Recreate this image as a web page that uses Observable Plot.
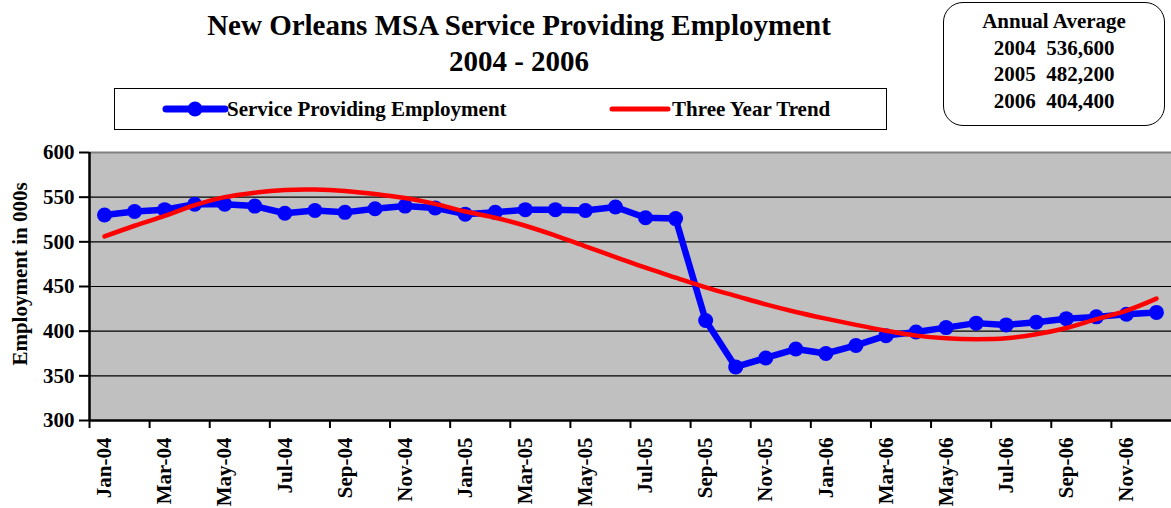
<!DOCTYPE html>
<html><head><meta charset="utf-8">
<script src="https://cdn.jsdelivr.net/npm/d3@7"></script>
<script src="https://cdn.jsdelivr.net/npm/@observablehq/plot@0.6"></script>
<style>
html,body{margin:0;padding:0;background:#fff;}
body{font-family:"Liberation Serif","Times New Roman",serif;font-weight:bold;color:#000;}
#wrap{position:relative;width:1171px;height:508px;overflow:hidden;}
#head{position:relative;width:1171px;height:140px;}
#title{position:absolute;left:0;top:7px;width:1038px;text-align:center;font-size:29px;line-height:36px;}
#legend{position:absolute;left:114px;top:88px;width:771px;height:40px;border:1px solid #000;}
#legend svg{position:absolute;left:0;top:0;}
.ltxt{position:absolute;top:8px;font-size:21px;line-height:24px;white-space:nowrap;}
#avg{position:absolute;left:943px;top:2px;width:220px;height:117px;border:1.5px solid #000;border-radius:20px;text-align:center;font-size:21px;line-height:26.5px;padding-top:5px;box-sizing:content-box;white-space:pre;}
#ylab{position:absolute;left:20px;top:274px;transform:translate(-50%,-50%) rotate(-90deg);font-size:21px;white-space:nowrap;}
#chart{position:relative;}
</style></head><body>
<div id="wrap">
  <div id="head">
    <div id="title">New Orleans MSA Service Providing Employment<br>2004 - 2006</div>
    <div id="legend">
      <svg width="771" height="40">
        <line x1="51" y1="20" x2="110" y2="20" stroke="blue" stroke-width="7" stroke-linecap="round"/>
        <circle cx="80" cy="20" r="7.5" fill="blue"/>
        <line x1="497" y1="20" x2="553" y2="20" stroke="red" stroke-width="5" stroke-linecap="round"/>
      </svg>
      <div class="ltxt" style="left:112px">Service Providing Employment</div>
      <div class="ltxt" style="left:557px">Three Year Trend</div>
    </div>
    <div id="avg"></div>
  </div>
  <div id="chart"></div>
  <div id="ylab">Employment in 000s</div>
</div>
<script>
const months = ["Jan-04","Feb-04","Mar-04","Apr-04","May-04","Jun-04","Jul-04","Aug-04","Sep-04","Oct-04","Nov-04","Dec-04",
  "Jan-05","Feb-05","Mar-05","Apr-05","May-05","Jun-05","Jul-05","Aug-05","Sep-05","Oct-05","Nov-05","Dec-05",
  "Jan-06","Feb-06","Mar-06","Apr-06","May-06","Jun-06","Jul-06","Aug-06","Sep-06","Oct-06","Nov-06","Dec-06"];
const employment = [530,534,536,542,542,540,532,535,533,537,540,538,
  531,533,536,536,535,539,527,526,412,360,370,380,
  375,384,395,399,404,409,407,410,414,416,419,421];
const trend = [506,518,529,541,550,555,558,558.5,557,553.5,549,542.5,
  534,527,518,507,495,483,471,460,449,439.5,430,421.5,
  414,407,400.5,395,392,391,392,396.5,403.5,413.5,423,436.5];
const yTicks = [300,350,400,450,500,550,600];
const gridLines = [350,400,450,500,550];
const avgYears = ["2004","2005","2006"];
const avgValues = ["536,600","482,200","404,400"];

document.getElementById("avg").textContent =
  "Annual Average\n" + avgYears.map((y,i)=>y+"  "+avgValues[i]).join("\n");

const data = months.map((m,i)=>({idx:i, month:m, employment:employment[i], trend:trend[i]}));
const labelIdx = months.map((m,i)=>i).filter(i=>i%2===0);
const tickIdx = labelIdx.map(i=>i-0.5);

const chart = Plot.plot({
  width:1171, height:368,
  marginTop:12, marginBottom:88, marginLeft:89, marginRight:0,
  style:{fontFamily:"Liberation Serif, Times New Roman, serif", fontWeight:"bold", fontSize:"21px", color:"#000", background:"transparent", overflow:"visible"},
  x:{type:"linear", domain:[-0.5, months.length-0.5]},
  y:{domain:[300,600]},
  marks:[
    Plot.frame({fill:"#c0c0c0", stroke:null}),
    Plot.ruleY(gridLines, {stroke:"#000", strokeWidth:1.2}),
    Plot.ruleY([600], {stroke:"#808080", strokeWidth:2}),
    Plot.axisY({ticks:yTicks, tickSize:10, tickPadding:5, label:null, tickFormat:d=>String(d), fontSize:21, strokeWidth:2}),
    Plot.axisX({ticks:labelIdx, tickSize:0, tickPadding:17, tickRotate:-90, tickFormat:i=>months[i], label:null, fontSize:21}),
    Plot.axisX({ticks:tickIdx, tickSize:8, tickFormat:()=>"", label:null, strokeWidth:2}),
    Plot.ruleY([300], {stroke:"#000", strokeWidth:2.5}),
    Plot.ruleX([-0.5], {stroke:"#000", strokeWidth:2.5}),
    Plot.line(data, {x:"idx", y:"employment", stroke:"blue", strokeWidth:6.5, strokeLinejoin:"round"}),
    Plot.dot(data, {x:"idx", y:"employment", fill:"blue", r:7.5}),
    Plot.line(data, {x:"idx", y:"trend", stroke:"red", strokeWidth:4.5, curve:"catmull-rom"})
  ]
});
document.getElementById("chart").appendChild(chart);
</script>
</body></html>
